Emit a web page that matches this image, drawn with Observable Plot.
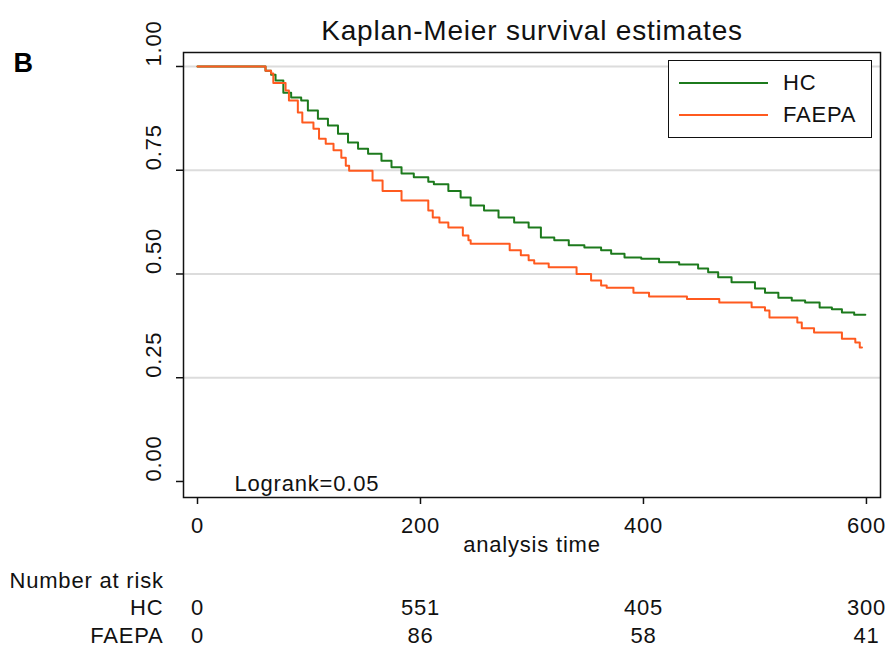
<!DOCTYPE html>
<html>
<head>
<meta charset="utf-8">
<script src="https://cdn.jsdelivr.net/npm/d3@7"></script>
<script src="https://cdn.jsdelivr.net/npm/@observablehq/plot@0.6"></script>
<style>
  html, body { margin: 0; padding: 0; background: #fff; }
  #wrap { position: relative; width: 888px; height: 646px; font-family: "Liberation Sans", Arial, sans-serif; color: #111; }
  #wrap svg text { letter-spacing: 0.8px; }
  #wrap svg g[aria-label="title"] text { letter-spacing: 2.2px; }
  #legend { position: absolute; left: 668px; top: 60px; width: 202px; height: 76px; border: 1.5px solid #111; background: #fff; box-sizing: content-box; }
  .lg-row { position: absolute; left: 0; height: 24px; display: flex; align-items: center; font-size: 22px; letter-spacing: 0.8px; }
  .lg-line { width: 89px; height: 0; border-top: 2px solid; margin-left: 10px; margin-right: 15px; }
</style>
</head>
<body>
<div id="wrap"></div>
<script>
// Kaplan-Meier step data (time of step, survival after step)
const hcTime = [0, 61, 66, 70, 77, 84, 93, 99, 108, 117, 126, 135, 144, 153, 165, 174, 183, 194, 207, 212, 225, 236, 245, 257, 270, 284, 297, 308, 320, 333, 347, 362, 371, 383, 398, 414, 432, 449, 458, 467, 479, 500, 509, 521, 533, 545, 558, 569, 578, 589, 599];
const hcSurv = [1, 0.99, 0.98, 0.966, 0.937, 0.925, 0.918, 0.894, 0.874, 0.858, 0.838, 0.817, 0.802, 0.790, 0.773, 0.757, 0.742, 0.733, 0.722, 0.716, 0.700, 0.684, 0.665, 0.653, 0.636, 0.624, 0.612, 0.588, 0.581, 0.569, 0.564, 0.557, 0.549, 0.540, 0.537, 0.528, 0.523, 0.513, 0.504, 0.492, 0.480, 0.465, 0.455, 0.443, 0.436, 0.431, 0.419, 0.415, 0.407, 0.402, 0.402];
const faepaTime = [0, 61, 66, 68, 79, 82, 90, 94, 104, 109, 115, 122, 129, 133, 136, 157, 166, 183, 207, 211, 217, 225, 238, 243, 245, 280, 290, 297, 302, 315, 340, 353, 362, 367, 391, 405, 439, 468, 497, 509, 513, 538, 542, 553, 578, 590, 594, 596];
const faepaSurv = [1, 0.99, 0.983, 0.96, 0.942, 0.918, 0.889, 0.865, 0.85, 0.826, 0.814, 0.798, 0.78, 0.761, 0.749, 0.725, 0.70, 0.677, 0.653, 0.636, 0.624, 0.612, 0.593, 0.581, 0.573, 0.557, 0.545, 0.533, 0.525, 0.516, 0.50, 0.484, 0.472, 0.467, 0.455, 0.446, 0.44, 0.431, 0.42, 0.412, 0.395, 0.383, 0.369, 0.359, 0.344, 0.335, 0.323, 0.323];

const groups = ["HC", "FAEPA"];
const groupColors = ["#1c7a1c", "#ff5a1f"];
const xTicks = [0, 200, 400, 600];
const yTicks = [0, 0.25, 0.5, 0.75, 1];
const yTickLabels = ["0.00", "0.25", "0.50", "0.75", "1.00"];
const gridValues = [0.25, 0.5, 0.75, 1];
const riskTimes = [0, 200, 400, 600];
const riskHC = [0, 551, 405, 300];
const riskFAEPA = [0, 86, 58, 41];
const titleText = "Kaplan-Meier survival estimates";
const panelLetter = "B";
const xLabel = "analysis time";
const logrankText = "Logrank=0.05";
const riskHeader = "Number at risk";

const km = [
  ...hcTime.map((t, i) => ({group: "HC", t, s: hcSurv[i]})),
  ...faepaTime.map((t, i) => ({group: "FAEPA", t, s: faepaSurv[i]}))
];
const yTickData = yTicks.map((v, i) => ({v, label: yTickLabels[i]}));
const riskHCData = riskTimes.map((t, i) => ({t, n: riskHC[i]}));
const riskFAEPAData = riskTimes.map((t, i) => ({t, n: riskFAEPA[i]}));

const ink = "#111";
const rowHC = 117, rowFAEPA = 145;
const chart = Plot.plot({
  width: 888,
  height: 646,
  marginLeft: 183,
  marginRight: 8,
  marginTop: 52,
  marginBottom: 149,
  style: {fontFamily: '"Liberation Sans", Arial, sans-serif', color: ink, background: "#fff", overflow: "visible"},
  x: {domain: [-12.56, 612.6]},
  y: {domain: [-0.0386, 1.0337]},
  color: {domain: groups, range: groupColors},
  marks: [
    Plot.ruleY(gridValues, {stroke: "#dcdcdc", strokeWidth: 2}),
    Plot.line(km, {x: "t", y: "s", z: "group", stroke: "group", curve: "step-after", strokeWidth: 2}),
    Plot.frame({stroke: ink, strokeWidth: 1.5}),
    Plot.axisX(xTicks, {tickSize: 7, tickFormat: () => "", label: null, stroke: ink, strokeWidth: 1.5}),
    Plot.axisY(yTicks, {tickSize: 7, tickFormat: () => "", label: null, stroke: ink, strokeWidth: 1.5}),
    // x tick labels
    Plot.text(xTicks, {x: d => d, frameAnchor: "bottom", dy: 35, text: d => String(d), fontSize: 22, fill: ink}),
    // y tick labels (rotated)
    Plot.text(yTickData, {y: "v", frameAnchor: "left", dx: -30, rotate: -90, text: "label", fontSize: 22, fill: ink}),
    // title & panel letter
    Plot.text([titleText], {frameAnchor: "top", dy: -32, text: d => d, fontSize: 28, fill: ink, ariaLabel: "title"}),
    Plot.text([panelLetter], {frameAnchor: "top-left", dx: -170, dy: 0, textAnchor: "start", text: d => d, fontSize: 27, fontWeight: "bold", fill: "#000"}),
    // x-axis label
    Plot.text([xLabel], {frameAnchor: "bottom", dy: 54, text: d => d, fontSize: 22, fill: ink}),
    // logrank annotation
    Plot.text([logrankText], {frameAnchor: "bottom-left", dx: 51, dy: -7, textAnchor: "start", text: d => d, fontSize: 22, fill: ink}),
    // number at risk table
    Plot.text([riskHeader], {frameAnchor: "bottom-left", dx: -174, dy: 90, textAnchor: "start", text: d => d, fontSize: 22, fill: ink}),
    Plot.text([groups[0]], {frameAnchor: "bottom-left", dx: -20, dy: rowHC, textAnchor: "end", text: d => d, fontSize: 22, fill: ink}),
    Plot.text([groups[1]], {frameAnchor: "bottom-left", dx: -20, dy: rowFAEPA, textAnchor: "end", text: d => d, fontSize: 22, fill: ink}),
    Plot.text(riskHCData, {x: "t", frameAnchor: "bottom", dy: rowHC, text: d => String(d.n), fontSize: 22, fill: ink}),
    Plot.text(riskFAEPAData, {x: "t", frameAnchor: "bottom", dy: rowFAEPA, text: d => String(d.n), fontSize: 22, fill: ink})
  ]
});

const wrap = document.getElementById("wrap");
wrap.appendChild(chart);

// legend (HTML overlay)
const legend = document.createElement("div");
legend.id = "legend";
groups.forEach((g, i) => {
  const row = document.createElement("div");
  row.className = "lg-row";
  row.style.top = (10 + i * 32) + "px";
  const line = document.createElement("span");
  line.className = "lg-line";
  line.style.borderTopColor = groupColors[i];
  const label = document.createElement("span");
  label.textContent = g;
  row.appendChild(line);
  row.appendChild(label);
  legend.appendChild(row);
});
wrap.appendChild(legend);
</script>
</body>
</html>
